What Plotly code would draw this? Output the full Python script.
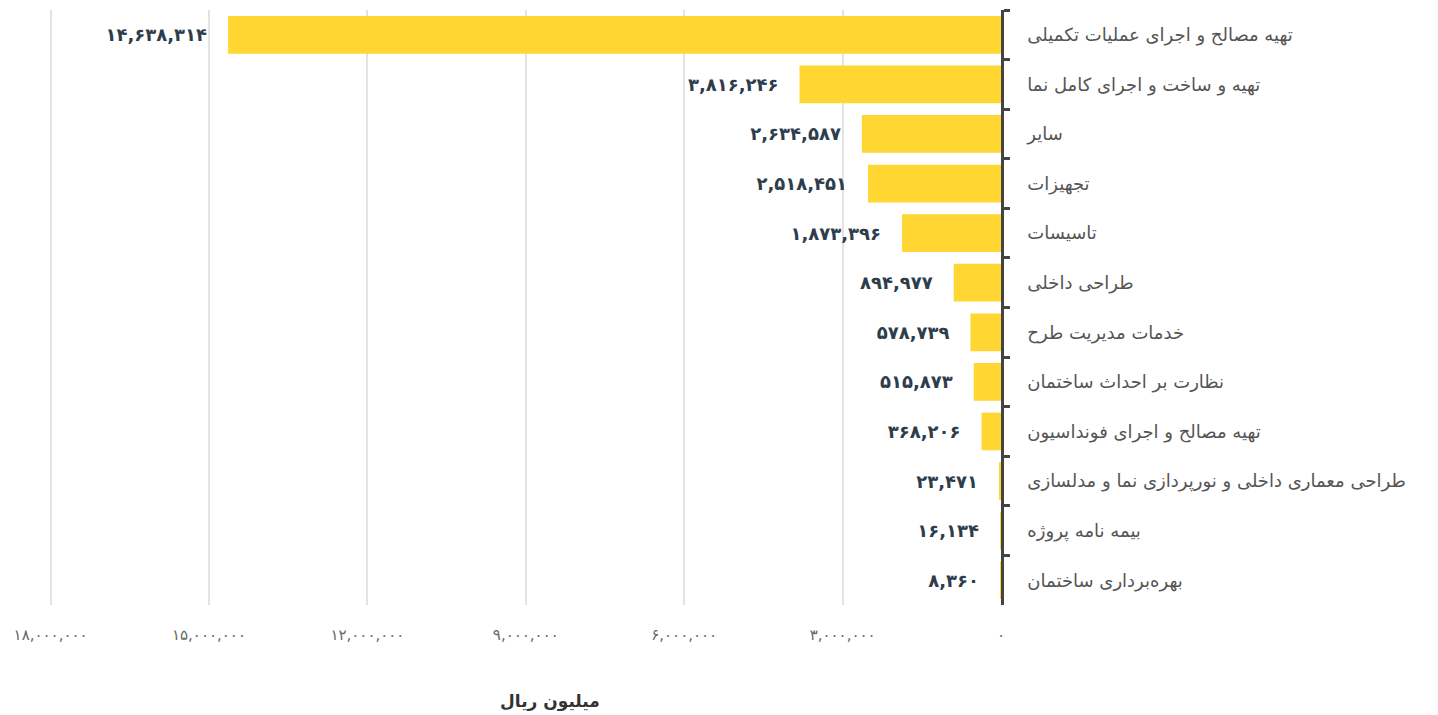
import plotly.graph_objects as go

categories = [
    "تهیه مصالح و اجرای عملیات تکمیلی",
    "تهیه و ساخت و اجرای کامل نما",
    "سایر",
    "تجهیزات",
    "تاسیسات",
    "طراحی داخلی",
    "خدمات مدیریت طرح",
    "نظارت بر احداث ساختمان",
    "تهیه مصالح و اجرای فونداسیون",
    "طراحی معماری داخلی و نورپردازی نما و مدلسازی",
    "بیمه نامه پروژه",
    "بهره‌برداری ساختمان",
]
values = [14638314, 3816246, 2634587, 2518451, 1873396, 894977, 578739, 515873, 368206, 23471, 16134, 8360]
tick_values = [0, 3000000, 6000000, 9000000, 12000000, 15000000, 18000000]
axis_title = "میلیون ریال"

PERSIAN = str.maketrans("0123456789", "۰۱۲۳۴۵۶۷۸۹")


def fa(n):
    return f"{n:,}".translate(PERSIAN)


fig = go.Figure()
fig.add_trace(go.Bar(
    y=categories,
    x=values,
    orientation="h",
    marker=dict(color="#FFD632", line=dict(width=0)),
    text=[fa(v) + "\u2002\u2002" for v in values],
    textposition="outside",
    cliponaxis=False,
    textfont=dict(size=18, color="#2E3D4C", family="DejaVu Sans", weight="bold"),
    hoverinfo="skip",
))

fig.update_layout(
    width=1438,
    height=715,
    margin=dict(l=49, r=437, t=10, b=110),
    paper_bgcolor="white",
    plot_bgcolor="white",
    showlegend=False,
    bargap=0.24,
    font=dict(family="DejaVu Sans"),
    xaxis=dict(
        range=[18030000, 0],
        tickvals=tick_values,
        ticktext=[fa(v) for v in tick_values],
        tickfont=dict(size=15, color="#666"),
        showgrid=True,
        gridcolor="#E3E3E3",
        gridwidth=1.5,
        zeroline=False,
        showline=False,
        ticks="",
        ticklabelstandoff=19,
        automargin=False,
        fixedrange=True,
    ),
    yaxis=dict(
        side="right",
        autorange="reversed",
        showline=True,
        linecolor="#444",
        linewidth=2.5,
        ticks="outside",
        tickson="boundaries",
        ticklen=6,
        tickwidth=2.5,
        tickcolor="#444",
        tickfont=dict(size=18, color="#555"),
        ticklabelstandoff=20,
        showgrid=False,
        automargin=False,
        fixedrange=True,
    ),
    annotations=[dict(
        text=axis_title,
        xref="paper", yref="paper",
        x=(550 - 49) / (1001 - 49), y=(605 - 701) / 595,
        xanchor="center", yanchor="middle",
        showarrow=False,
        font=dict(size=17, color="#333", weight="bold"),
    )],
)

fig.write_html(
    "out.html",
    config={"displayModeBar": False},
    post_script="document.body.style.margin='0';document.body.style.overflow='hidden';",
)
